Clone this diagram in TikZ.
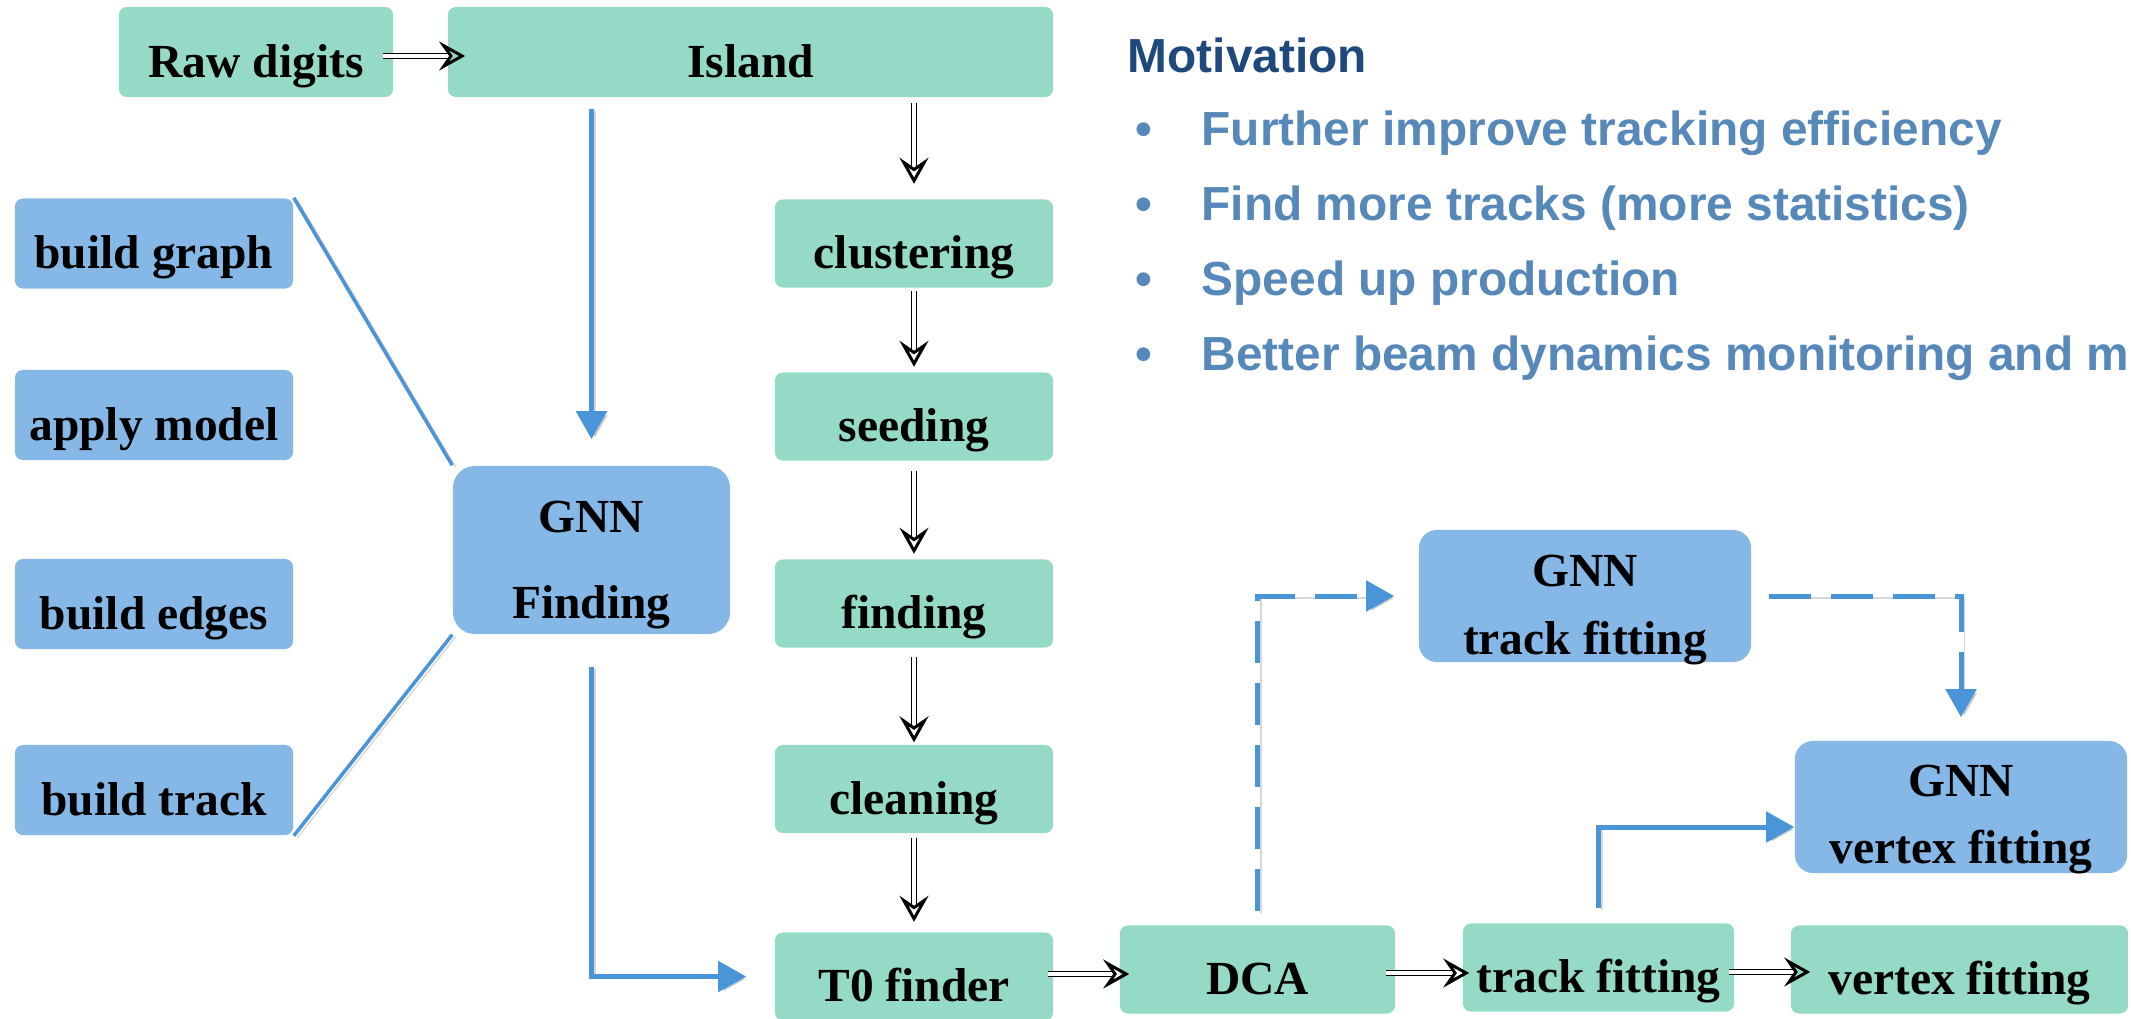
\documentclass[tikz,border=0pt]{standalone}
\usepackage{fontspec}
\setmainfont{Liberation Serif}
\newfontfamily\motsans{Liberation Sans}
\usetikzlibrary{arrows.meta,calc}
\definecolor{stagegreen}{RGB}{148,218,198}
\definecolor{gnnblue}{RGB}{133,184,230}
\definecolor{linkblue}{RGB}{74,148,216}
\definecolor{bullettext}{RGB}{86,136,186}
\definecolor{headnavy}{RGB}{31,73,125}

\begin{document}
\begin{tikzpicture}[x=0.01cm, y=-0.01cm,
  box/.style={inner sep=0pt, font=\fontsize{13.5pt}{16pt}\selectfont\bfseries,
    text height=0.55cm, text depth=0.05cm, minimum height=0.88cm},
  stage/.style={box, fill=stagegreen, rounded corners=0.08cm},
  gnnpart/.style={box, fill=gnnblue, rounded corners=0.08cm,
    minimum width=2.78cm, minimum height=0.9cm},
  gnnbig/.style={inner sep=0pt, fill=gnnblue, align=center},
  hollow/.style={draw=black, line width=0.015cm, double=white, double distance=0.035cm,
    -{Stealth[open, length=0.26cm, width=0.29cm, inset=0.1cm, line width=0.03cm]}},
  shade/.style={preaction={draw=black!35, opacity=0.45,
    transform canvas={shift={(0.035cm,-0.02cm)}}}},
  link/.style={draw=linkblue, line width=0.05cm, shade},
  linktip/.style={link, -{Triangle[length=0.28cm, width=0.3cm]}},
  dashlink/.style={linktip, dash pattern=on 0.42cm off 0.2cm},
  spoke/.style={draw=linkblue, line width=0.035cm, shade},
  motline/.style={anchor=base west, inner sep=0pt,
    font=\motsans\bfseries\fontsize{13.6pt}{16pt}\selectfont, text=bullettext},
]
\useasboundingbox (0,0) rectangle (2131,1018);
\clip (0,0) rectangle (2131,1018);

% main reconstruction chain
\node[stage, minimum width=2.74cm, minimum height=0.9cm] (raw) at (256,52) {Raw digits};
\node[stage, minimum width=6.05cm, minimum height=0.9cm] (island) at (750.5,52) {Island};
\node[stage, minimum width=2.78cm] (clust) at (914,243.5) {clustering};
\node[stage, minimum width=2.78cm] (seed) at (914,416.5) {seeding};
\node[stage, minimum width=2.78cm] (find) at (914,603.5) {finding};
\node[stage, minimum width=2.78cm] (clean) at (914,789) {cleaning};
\node[stage, minimum width=2.78cm] (tzero) at (914,976.5) {T0 finder};
\node[stage, minimum width=2.75cm] (dca) at (1257.5,969.5) {DCA};
\node[stage, minimum width=2.71cm] (tfit) at (1598.5,967.5) {track fitting};
\node[stage, minimum width=3.37cm] (vfit) at (1959.5,969.5) {vertex fitting};

% GNN sub-steps
\node[gnnpart] (bgraph) at (154,243.5) {build graph};
\node[gnnpart] (amodel) at (154,415) {apply model};
\node[gnnpart] (bedges) at (154,604) {build edges};
\node[gnnpart] (btrack) at (154,790) {build track};

% GNN blocks (text height/depth measured from the last line's baseline)
\node[gnnbig, minimum width=2.77cm, minimum height=1.68cm, rounded corners=0.22cm,
  font=\fontsize{13.5pt}{24.2pt}\selectfont\bfseries, text height=1.4cm, text depth=0.04cm]
  (gfind) at (591.5,550) {GNN\\Finding};
\node[gnnbig, minimum width=3.32cm, minimum height=1.32cm, rounded corners=0.18cm,
  font=\fontsize{13.5pt}{19.1pt}\selectfont\bfseries, text height=1.2cm, text depth=0.04cm]
  (gtrack) at (1585,596) {GNN\\track fitting};
\node[gnnbig, minimum width=3.32cm, minimum height=1.32cm, rounded corners=0.18cm,
  font=\fontsize{13.5pt}{18.8pt}\selectfont\bfseries, text height=1.16cm, text depth=0.04cm]
  (gvertex) at (1961,807) {GNN\\vertex fitting};

% GNN connections
\draw[spoke] (bgraph.north east) -- (gfind.north west);
\draw[spoke] (btrack.south east) -- (gfind.south west);
\draw[linktip, shorten <=0.11cm, shorten >=0.26cm] (island.south -| gfind.north) -- (gfind.north);
\draw[linktip, shorten <=0.32cm, shorten >=0.28cm] (gfind.south) |- (tzero.west);
\draw[dashlink, shorten <=0.14cm, shorten >=0.24cm] (dca.north) |- (gtrack.west);
\draw[dashlink, shorten <=0.17cm, shorten >=0.23cm] (gtrack.east) -| (gvertex.north);
\draw[linktip, shorten <=0.15cm] (tfit.north) |- ([yshift=-0.2cm]gvertex.west);

% classic chain arrows
\draw[hollow] ([shift={(-11,4)}]raw.east) -- ([shift={(18,4)}]island.west);
\draw[hollow, shorten <=0.05cm, shorten >=0.15cm] (island.south -| clust.north) -- (clust.north);
\draw[hollow, shorten <=0.03cm, shorten >=0.05cm] (clust.south) -- (seed.north);
\draw[hollow, shorten <=0.1cm, shorten >=0.05cm] (seed.south) -- (find.north);
\draw[hollow, shorten <=0.09cm, shorten >=0.02cm] (find.south) -- (clean.north);
\draw[hollow, shorten <=0.04cm, shorten >=0.1cm] (clean.south) -- (tzero.north);
\draw[hollow] ([shift={(-6,-2.5)}]tzero.east) -- ([shift={(10,4.5)}]dca.west);
\draw[hollow] ([shift={(-10,3.5)}]dca.east) -- ([shift={(7,5.5)}]tfit.west);
\draw[hollow] ([shift={(-6,4.5)}]tfit.east) -- ([shift={(20,2.5)}]vfit.west);

% motivation list
\node[motline, text=headnavy] (mot) at (1127,72) {Motivation};
\node[motline] (d1) at (1135,145) {\textbullet};
\node[motline] (m1) at (1201,145) {Further improve tracking efficiency};
\node[motline] (d2) at (1135,220) {\textbullet};
\node[motline] (m2) at (1201,220) {Find more tracks (more statistics)};
\node[motline] (d3) at (1135,295) {\textbullet};
\node[motline] (m3) at (1201,295) {Speed up production};
\node[motline] (d4) at (1135,370) {\textbullet};
\node[motline] (m4) at (1201,370) {Better beam dynamics monitoring and m};
\end{tikzpicture}
\end{document}
